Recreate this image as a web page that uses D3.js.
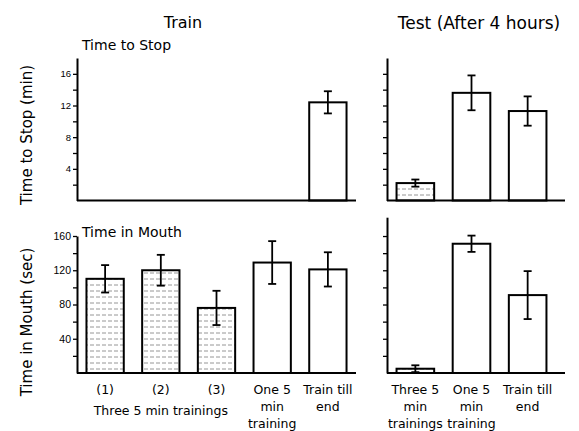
<!DOCTYPE html>
<html>
<head>
<meta charset="utf-8">
<script src="https://cdn.jsdelivr.net/npm/d3@7.9.0/dist/d3.min.js"></script>
<style>
  body { margin: 0; background: #fff; }
  svg { font-family: "DejaVu Sans", sans-serif; }
  .axis path, .axis line { stroke: #000; }
</style>
</head>
<body>
<svg id="chart" width="579" height="431"></svg>
<script>
// Data
const trainLabels = [["(1)"], ["(2)"], ["(3)"], ["One 5", "min", "training"], ["Train till", "end"]];
const testLabels = [["Three 5", "min", "trainings"], ["One 5", "min", "training"], ["Train till", "end"]];

const trainStop = [null, null, null, null, 12.4];
const trainStopErr = [null, null, null, null, 1.4];
const trainMouth = [110, 120, 76, 129, 121];
const trainMouthErr = [16, 18, 20, 25, 20];

const testStop = [2.2, 13.6, 11.3];
const testStopErr = [0.45, 2.2, 1.85];
const testMouth = [5, 151, 91];
const testMouthErr = [4, 9.5, 28];

// which bars are the "three trainings" (shaded) groups
const trainShaded = [true, true, true, false, false];
const testShaded = [true, false, false];

const stopTicks = [2, 4, 6, 8, 10, 12, 14, 16];
const mouthTicks = [20, 40, 60, 80, 100, 120, 140, 160];

const svg = d3.select('#chart');

// Pattern for the shaded bars (faint dashed horizontal lines)
const defs = svg.append('defs');
const pat = defs.append('pattern')
    .attr('id', 'lines')
    .attr('patternUnits', 'userSpaceOnUse')
    .attr('width', 12).attr('height', 6);
pat.append('line')
    .attr('x1', 0).attr('x2', 12).attr('y1', 3).attr('y2', 3)
    .attr('stroke', '#7a7a7a').attr('stroke-width', 0.8)
    .attr('stroke-dasharray', '4,2');

// Scales
const xTrain = d3.scaleBand().domain(d3.range(trainLabels.length))
    .range([77, 356]).paddingInner(0.33).paddingOuter(0.17);
const xTest = d3.scaleBand().domain(d3.range(testLabels.length))
    .range([387, 556]).paddingInner(0.33).paddingOuter(0.17);

const yStop = d3.scaleLinear().domain([0, 18]).range([200.5, 58]);
const yMouthL = d3.scaleLinear().domain([0, 160]).range([373, 236]);
const yMouthR = d3.scaleLinear().domain([0, 182]).range([373, 217.2]);

// Draw one panel
function drawPanel(x, y, values, errs, shaded, ticks, labelEvery, showLabels, baseEnd) {
    const g = svg.append('g');

    const axis = d3.axisLeft(y)
        .tickValues(ticks)
        .tickSize(4)
        .tickSizeOuter(0)
        .tickPadding(2)
        .tickFormat((d) => (showLabels && d % labelEvery === 0) ? d : '');
    const ax = g.append('g')
        .attr('class', 'axis')
        .attr('transform', `translate(${x.range()[0]},0)`)
        .call(axis);
    ax.select('.domain').attr('stroke-width', 2);
    ax.selectAll('.tick line').attr('stroke-width', 1.3);
    ax.selectAll('.tick text')
        .attr('font-size', labelEvery === 4 ? 9.5 : 10.5)
        .attr('fill', '#000');

    values.forEach((v, i) => {
        if (v == null) return;
        const x0 = x(i);
        const w = x.bandwidth();
        g.append('rect')
            .attr('x', x0).attr('y', y(v))
            .attr('width', w).attr('height', y(0) - y(v))
            .attr('fill', shaded[i] ? 'url(#lines)' : '#fff')
            .attr('stroke', '#000').attr('stroke-width', 2);

        // error bar
        const cx = x0 + w / 2;
        const e = errs[i];
        g.append('line')
            .attr('x1', cx).attr('x2', cx)
            .attr('y1', y(v + e)).attr('y2', y(v - e))
            .attr('stroke', '#000').attr('stroke-width', 1.8);
        [v + e, v - e].forEach((c) => {
            g.append('line')
                .attr('x1', cx - 4).attr('x2', cx + 4)
                .attr('y1', y(c)).attr('y2', y(c))
                .attr('stroke', '#000').attr('stroke-width', 1.8);
        });
    });

    // baseline
    g.append('line')
        .attr('x1', x.range()[0]).attr('x2', baseEnd)
        .attr('y1', y(0)).attr('y2', y(0))
        .attr('stroke', '#000').attr('stroke-width', 2);
}

drawPanel(xTrain, yStop, trainStop, trainStopErr, trainShaded, stopTicks, 4, true, 356);
drawPanel(xTrain, yMouthL, trainMouth, trainMouthErr, trainShaded, mouthTicks, 40, true, 356);
drawPanel(xTest, yStop, testStop, testStopErr, testShaded, stopTicks, 4, false, 565);
drawPanel(xTest, yMouthR, testMouth, testMouthErr, testShaded, mouthTicks, 40, false, 565);

// Category labels
function drawLabels(x, labels) {
    labels.forEach((lines, i) => {
        const cx = x(i) + x.bandwidth() / 2;
        lines.forEach((t, j) => {
            svg.append('text')
                .attr('x', cx).attr('y', 394 + j * 17)
                .attr('text-anchor', 'middle')
                .attr('font-size', 12.5)
                .text(t);
        });
    });
}
drawLabels(xTrain, trainLabels);
drawLabels(xTest, testLabels);

// group label under the three trainings
svg.append('text')
    .attr('x', (xTrain(0) + xTrain(2) + xTrain.bandwidth()) / 2)
    .attr('y', 415)
    .attr('text-anchor', 'middle')
    .attr('font-size', 12.5)
    .text('Three 5 min trainings');

// Titles
svg.append('text').attr('x', 183).attr('y', 28)
    .attr('text-anchor', 'middle').attr('font-size', 16).text('Train');
svg.append('text').attr('x', 479).attr('y', 29)
    .attr('text-anchor', 'middle').attr('font-size', 17).text('Test (After 4 hours)');
svg.append('text').attr('x', 82).attr('y', 50)
    .attr('font-size', 14).text('Time to Stop');
svg.append('text').attr('x', 82).attr('y', 237)
    .attr('font-size', 14).text('Time in Mouth');

// Y axis titles
svg.append('text')
    .attr('transform', 'translate(32,135) rotate(-90)')
    .attr('text-anchor', 'middle').attr('font-size', 15)
    .text('Time to Stop (min)');
svg.append('text')
    .attr('transform', 'translate(32,322) rotate(-90)')
    .attr('text-anchor', 'middle').attr('font-size', 15)
    .text('Time in Mouth (sec)');
</script>
</body>
</html>
